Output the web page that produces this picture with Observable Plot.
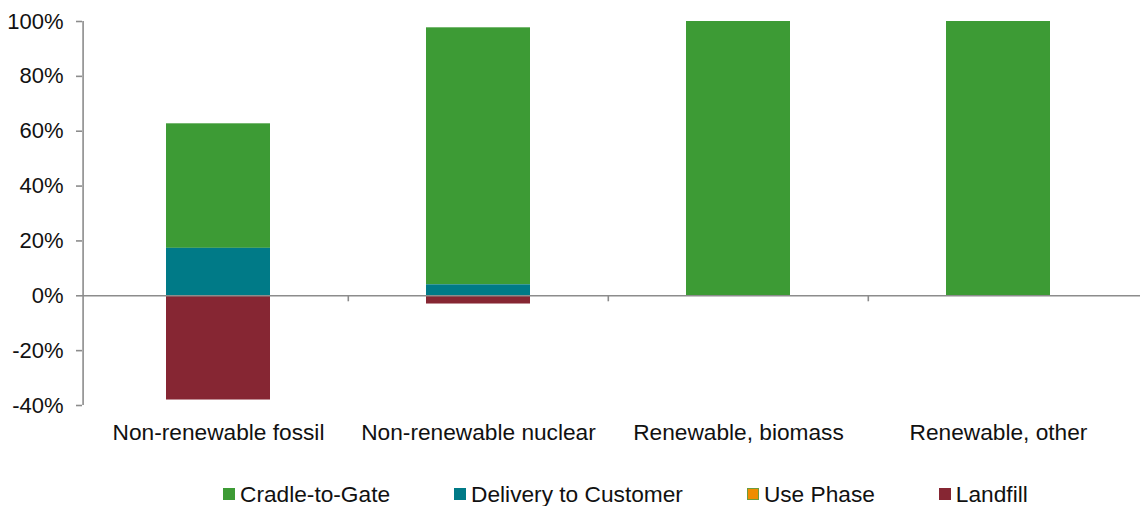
<!DOCTYPE html>
<html>
<head>
<meta charset="utf-8">
<script src="https://cdn.jsdelivr.net/npm/d3@7"></script>
<script src="https://cdn.jsdelivr.net/npm/@observablehq/plot@0.6"></script>
<style>
  html, body { margin: 0; padding: 0; background: #fff; }
  body { width: 1140px; height: 506px; overflow: hidden; font-family: Arial, "Liberation Sans", sans-serif; }
  #legend { display: flex; align-items: center; padding-left: 223px; gap: 64px; height: 36px; margin-top: 6px; font-size: 22.7px; color: #111; }
  .item { display: flex; align-items: center; gap: 5px; white-space: nowrap; }
  .sw { width: 12px; height: 12px; box-sizing: border-box; display: inline-block; }
</style>
</head>
<body>
<div id="chart"></div>
<div id="legend"></div>
<script>
const categories = ["Non-renewable fossil", "Non-renewable nuclear", "Renewable, biomass", "Renewable, other"];
const seriesNames = ["Cradle-to-Gate", "Delivery to Customer", "Use Phase", "Landfill"];
const cradleToGate = [45.4, 93.7, 100, 100];
const deliveryToCustomer = [17.3, 4.0, 0, 0];
const usePhase = [0, 0, 0, 0];
const landfill = [-38.0, -3.0, 0, 0];
const yTicks = [-40, -20, 0, 20, 40, 60, 80, 100];
const colors = ["#3d9b35", "#007a87", "#f08c00", "#862633"];
const swatchBorders = ["#3d9b35", "#007a87", "#6d9c3d", "#862633"];

const seriesValues = [cradleToGate, deliveryToCustomer, usePhase, landfill];
const rows = [];
seriesNames.forEach((s, si) => categories.forEach((c, ci) => rows.push({category: c, series: s, value: seriesValues[si][ci]})));

const W = 1140, H = 470;
const mL = 82, mR = 6, mT = 21, mB = 65;
const pInner = 0.6, pOuter = 0.32;
const step = (W - mL - mR) / (categories.length - pInner + 2 * pOuter);
const gray = "#8c8c8c";

const chart = Plot.plot({
  width: W, height: H,
  marginLeft: mL, marginRight: mR, marginTop: mT, marginBottom: mB,
  style: {fontFamily: 'Arial, "Liberation Sans", sans-serif', fontSize: "22px", color: "#111", background: "#fff"},
  x: {domain: categories, paddingInner: pInner, paddingOuter: pOuter, label: null},
  y: {domain: [-40, 100], label: null},
  color: {domain: seriesNames, range: colors},
  marks: [
    Plot.barY(rows, {x: "category", y: "value", fill: "series",
      order: ["Delivery to Customer", "Use Phase", "Cradle-to-Gate", "Landfill"]}),
    Plot.ruleY([0], {stroke: gray, strokeWidth: 1.6, insetRight: -mR}),
    Plot.ruleX(categories.slice(1), {x: d => d, y1: () => 0, y2: () => 0, insetBottom: -6, dx: -step / 2, stroke: gray, strokeWidth: 1.6}),
    Plot.axisY({ticks: yTicks, tickFormat: d => d + "%", tickSize: 6, tickPadding: 13, stroke: gray, strokeWidth: 1.6, fontSize: 22, fill: "#111"}),
    Plot.ruleX([0], {x: () => categories[0], y1: -40, y2: 100, dx: -(step * pOuter + step * (1 - pInner) / 2), stroke: gray, strokeWidth: 1.6}),
    Plot.axisX({tickSize: 0, tickPadding: 18, fontSize: 22.7, fill: "#111"})
  ]
});
document.getElementById("chart").appendChild(chart);

const legend = document.getElementById("legend");
seriesNames.forEach((s, i) => {
  const item = document.createElement("div");
  item.className = "item";
  const sw = document.createElement("span");
  sw.className = "sw";
  sw.style.background = colors[i];
  sw.style.border = "1.5px solid " + swatchBorders[i];
  const t = document.createElement("span");
  t.textContent = s;
  item.appendChild(sw);
  item.appendChild(t);
  legend.appendChild(item);
});
</script>
</body>
</html>
